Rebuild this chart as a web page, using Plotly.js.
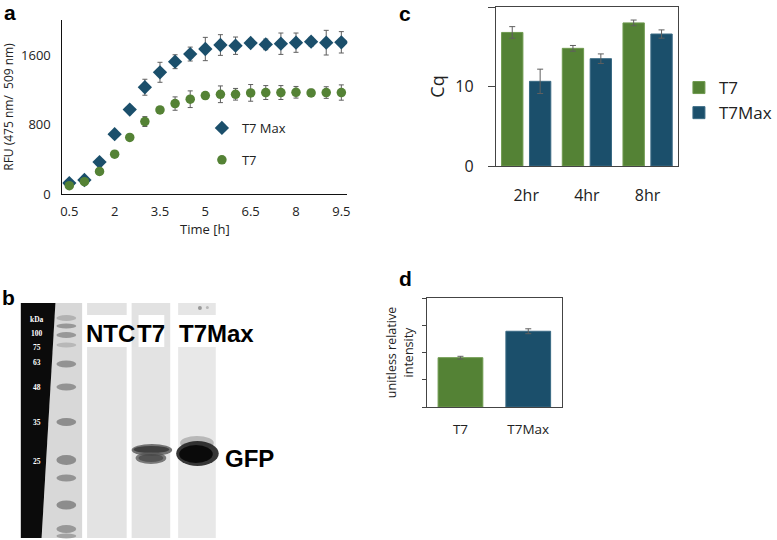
<!DOCTYPE html>
<html>
<head>
<meta charset="utf-8">
<script src="https://cdn.plot.ly/plotly-3.0.1.min.js"></script>
<style>html,body{margin:0;padding:0;background:#fff;}#chart{width:777px;height:540px;}</style>
</head>
<body>
<div id="chart"></div>
<script>
// ---------- DATA ----------
// Panel a: fluorescence time course
const timeH = [0.5,1,1.5,2,2.5,3,3.5,4,4.5,5,5.5,6,6.5,7,7.5,8,8.5,9,9.5];
const timeTicks = [0.5,2,3.5,5,6.5,8,9.5];
const rfuT7Max = [126,161,367,689,972,1229,1401,1523,1611,1669,1715,1707,1738,1722,1730,1742,1753,1742,1746];
const rfuT7MaxErr = [15,15,20,25,30,92,115,80,80,134,119,100,46,61,123,111,50,142,123];
const rfuT7 = [96,142,260,459,651,834,968,1041,1091,1133,1148,1148,1164,1168,1168,1171,1164,1168,1168];
const rfuT7Err = [10,10,15,20,25,57,30,77,96,38,96,67,96,80,80,67,42,67,88];
const rfuTicks = [0,800,1600];

// Panel c: Cq values
const cqCats = ['2hr','4hr','8hr'];
const cqT7 = [16.8,14.8,18.0];
const cqT7Err = [0.73,0.36,0.36];
const cqT7Max = [10.65,13.5,16.6];
const cqT7MaxErr = [1.53,0.6,0.52];

// Panel d: relative intensity
const intCats = ['T7','T7Max'];
const intVals = [1.81,2.78];
const intErr = [0.05,0.09];

// Panel b: gel labels
const kdaLabels = ['kDa','100','75','63','48','35','25'];
const laneLabels = ['NTC','T7','T7Max'];
const bandLabel = 'GFP';

// ---------- STYLE ----------
const GREEN = '#548235';
const BLUE = '#1b4f6b';
const ERR = '#5f5f5f';
const W = 777, H = 540;
const px = x => x / W;
const py = y => 1 - y / H;
const FONT = 'Open Sans, sans-serif';

const traces = [
  {type:'scatter', mode:'markers', name:'T7 Max', x:timeH, y:rfuT7Max,
   xaxis:'x', yaxis:'y', legend:'legend', legendgroup:'a1',
   marker:{symbol:'diamond', size:11, color:BLUE},
   error_y:{type:'data', array:rfuT7MaxErr, visible:true, color:ERR, thickness:1, width:2.5}},
  {type:'scatter', mode:'markers', name:'T7', x:timeH, y:rfuT7,
   xaxis:'x', yaxis:'y', legend:'legend', legendgroup:'a2',
   marker:{symbol:'circle', size:9.5, color:GREEN},
   error_y:{type:'data', array:rfuT7Err, visible:true, color:ERR, thickness:1, width:2.5}},
  {type:'bar', name:'T7', x:cqCats, y:cqT7, xaxis:'x2', yaxis:'y2', legend:'legend2',
   marker:{color:GREEN, line:{color:'#6f9a4f', width:1}},
   error_y:{type:'data', array:cqT7Err, visible:true, color:ERR, thickness:1, width:3}},
  {type:'bar', name:'T7Max', x:cqCats, y:cqT7Max, xaxis:'x2', yaxis:'y2', legend:'legend2',
   marker:{color:BLUE, line:{color:'#3a6a84', width:1}},
   error_y:{type:'data', array:cqT7MaxErr, visible:true, color:ERR, thickness:1, width:3}},
  {type:'bar', x:intCats, y:intVals, xaxis:'x3', yaxis:'y3', showlegend:false, width:0.66,
   marker:{color:[GREEN, BLUE], line:{color:['#6f9a4f','#3a6a84'], width:1}},
   error_y:{type:'data', array:intErr, visible:true, color:ERR, thickness:1, width:3}}
];

// ---------- GEL (panel b) drawn as decoration ----------
const shapes = [];
function rect(x0,y0,x1,y1,fill,op){shapes.push({type:'rect',xref:'paper',yref:'paper',x0:px(x0),x1:px(x1),y0:py(y1),y1:py(y0),fillcolor:fill,opacity:op==null?1:op,line:{width:0},layer:'above'});}
function ell(x0,y0,x1,y1,fill,op){shapes.push({type:'circle',xref:'paper',yref:'paper',x0:px(x0),x1:px(x1),y0:py(y1),y1:py(y0),fillcolor:fill,opacity:op==null?1:op,line:{width:0},layer:'above'});}
function poly(pts,fill){shapes.push({type:'path',xref:'paper',yref:'paper',path:'M'+pts.map(p=>px(p[0])+','+py(p[1])).join(' L')+' Z',fillcolor:fill,line:{width:0},layer:'above'});}

// ladder lane and black label strip
poly([[56,303],[83,303],[83,538],[42,538]], '#d8d8d8');
poly([[21,303],[56,303],[42,538],[21,538]], '#0b0b0b');
// ladder bands
[[318,0.35,6],[326,0.6,5],[335,0.6,6],[345,0.3,5],[364,0.65,7],[387,0.65,7],[422,0.7,8],[460,0.7,10],[478,0.65,7],[505,0.7,9],[529,0.6,8],[536,0.5,5]]
  .forEach(b=>{ell(57,b[0]-b[2]/2,77,b[0]+b[2]/2,'#6e6e6e',b[1]);});
// lanes
rect(88,303,128,315,'#e2e2e2'); rect(88,347,128,538,'#e3e3e3');
rect(133,303,172,315,'#e2e2e2'); rect(133,315,140,347,'#e2e2e2'); rect(166,315,172,347,'#e2e2e2'); rect(133,347,172,538,'#e3e3e3');
rect(180,303,218,315,'#e6e6e6'); rect(180,347,218,538,'#e8e8e8');
ell(200,306,204,310,'#777',0.7); ell(208,306,211,309,'#999',0.6);
// GFP bands
ell(133,444,174,456,'#555',0.8); ell(135,446,171,453,'#333',0.8);
ell(137,452,168,464,'#555',0.75); ell(140,454,165,462,'#444',0.7);
ell(182,436,216,450,'#888',0.5);
ell(178,441,221,466,'#222',0.9); ell(181,445,215,463,'#080808',0.95);

// ---------- ANNOTATIONS ----------
const ann = [];
function lab(t,x,y,o){ann.push(Object.assign({text:t,xref:'paper',yref:'paper',x:px(x),y:py(y),showarrow:false,xanchor:'center',yanchor:'middle'},o||{}));}
const bold = {family:'Liberation Sans, Arial, sans-serif', size:21, color:'#000', weight:'bold'};
lab('<b>a</b>',2,12,{xanchor:'left',font:bold});
lab('<b>c</b>',401,14,{xanchor:'left',font:bold});
lab('<b>b</b>',0,297,{xanchor:'left',font:bold});
lab('<b>d</b>',401,278,{xanchor:'left',font:bold});
const kdaY = [319,333,347,362,387,422,461];
kdaLabels.forEach((t,i)=>lab(t,37,kdaY[i],{font:{family:'Liberation Serif, serif',size:7.5,color:'#fff',weight:'bold'}}));
const laneX = [112,153,219];
laneLabels.forEach((t,i)=>lab('<b>'+t+'</b>',laneX[i],333,{font:{family:'Liberation Sans, Arial, sans-serif',size:24,color:'#000'}}));
lab('<b>'+bandLabel+'</b>',252,458,{font:{family:'Liberation Sans, Arial, sans-serif',size:24,color:'#000'}});

const axBase = {showgrid:false, zeroline:false, fixedrange:true};
const layout = {
  width:W, height:H, margin:{l:0,r:0,t:0,b:0},
  paper_bgcolor:'#fff', plot_bgcolor:'rgba(0,0,0,0)',
  font:{family:FONT, color:'#222'},
  barmode:'group', bargap:0.081, bargroupgap:0.235,
  xaxis:Object.assign({}, axBase, {domain:[px(63),px(351)], range:[0.27,9.7], anchor:'y',
    tickvals:timeTicks, ticktext:timeTicks.map(String), ticks:'', showline:true, linecolor:'#111', linewidth:1,
    tickfont:{size:13, color:'#222'}, ticklabelstandoff:5,
    title:{text:'Time [h]', font:{size:13, color:'#222'}, standoff:4}}),
  yaxis:Object.assign({}, axBase, {domain:[py(194),py(20)], range:[0,2003], anchor:'x',
    tickvals:rfuTicks, ticks:'', showline:true, linecolor:'#111', linewidth:1,
    tickfont:{size:13, color:'#222'}, ticklabelstandoff:8,
    title:{text:'RFU (475 nm/  509 nm)', font:{size:12, color:'#222'}, standoff:8}}),
  xaxis2:Object.assign({}, axBase, {domain:[px(501),px(685)], type:'category', range:[-0.5,2.5], anchor:'y2',
    ticks:'', showline:true, mirror:true, linecolor:'#444', linewidth:1,
    tickfont:{size:16, color:'#222'}, ticklabelstandoff:15}),
  yaxis2:Object.assign({}, axBase, {domain:[py(166),py(7)], range:[0,20], dtick:10, anchor:'x2',
    ticks:'outside', ticklen:7, tickcolor:'#444', showline:true, mirror:true, linecolor:'#444', linewidth:1,
    tickfont:{size:16, color:'#222'}, ticklabelstandoff:11,
    title:{text:'Cq', font:{size:18, color:'#222'}, standoff:6}}),
  xaxis3:Object.assign({}, axBase, {domain:[px(431),px(568)], type:'category', range:[-0.5,1.5], anchor:'y3',
    ticks:'', showline:true, mirror:true, linecolor:'#444', linewidth:1,
    tickfont:{size:13.5, color:'#222'}, ticklabelstandoff:10}),
  yaxis3:Object.assign({}, axBase, {domain:[py(407),py(298)], range:[0,4], dtick:1, anchor:'x3',
    ticks:'outside', ticklen:4, tickcolor:'#444', showticklabels:false, showline:true, mirror:true, linecolor:'#444', linewidth:1,
    title:{text:'unitless relative<br>intensity', font:{size:12.5, color:'#222'}, standoff:5}}),
  legend:{x:px(204), y:py(113), xanchor:'left', yanchor:'top', bgcolor:'rgba(0,0,0,0)',
    font:{size:13, color:'#222'}, tracegroupgap:12, traceorder:'grouped'},
  legend2:{x:px(686), y:py(70), xanchor:'left', yanchor:'top', bgcolor:'rgba(0,0,0,0)',
    font:{size:17, color:'#222'}, traceorder:'normal'},
  shapes:shapes, annotations:ann
};
Plotly.newPlot('chart', traces, layout, {staticPlot:true, displayModeBar:false});
</script>
</body>
</html>
